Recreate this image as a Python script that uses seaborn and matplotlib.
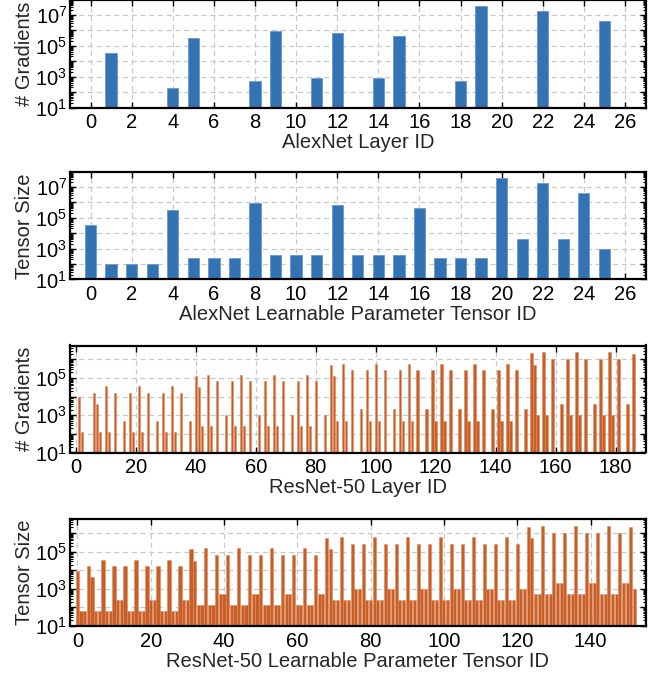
import numpy as np
import pandas as pd
import matplotlib
matplotlib.use("Agg")
import matplotlib.pyplot as plt
import matplotlib.ticker as mticker
import seaborn as sns

# ---------------- data ----------------
alex_layer_grads = [0, 34944, 0, 0, 192, 307456, 0, 0, 512, 885120, 0, 768, 663936,
                    0, 768, 442624, 0, 0, 512, 37752832, 0, 0, 16781312, 0, 0, 4097000]

alex_tensor_sizes = [34848, 96, 96, 96, 307200, 256, 256, 256, 884736, 384, 384, 384,
                     663552, 384, 384, 384, 442368, 256, 256, 256, 37748736, 4096,
                     16777216, 4096, 4096000, 1000]

resnet_layer_grads = [
    0, 9408, 128, 0, 0, 0,
    16384, 4096, 128, 0, 36864, 128, 0, 16384, 0, 0, 512, 0,
    16384, 128, 0, 36864, 128, 0, 16384, 0, 0, 512, 0,
    16384, 128, 0, 36864, 128, 0, 16384, 0, 0, 512, 0,
    131072, 32768, 256, 0, 147456, 256, 0, 65536, 0, 0, 1024, 0,
    65536, 256, 0, 147456, 256, 0, 65536, 0, 0, 1024, 0,
    65536, 256, 0, 147456, 256, 0, 65536, 0, 0, 1024, 0,
    65536, 256, 0, 147456, 256, 0, 65536, 0, 0, 1024, 0,
    524288, 131072, 512, 0, 589824, 512, 0, 262144, 0, 0, 2048, 0,
    262144, 512, 0, 589824, 512, 0, 262144, 0, 0, 2048, 0,
    262144, 512, 0, 589824, 512, 0, 262144, 0, 0, 2048, 0,
    262144, 512, 0, 589824, 512, 0, 262144, 0, 0, 2048, 0,
    262144, 512, 0, 589824, 512, 0, 262144, 0, 0, 2048, 0,
    262144, 512, 0, 589824, 512, 0, 262144, 0, 0, 2048, 0,
    2097152, 524288, 1024, 0, 2359296, 1024, 0, 1048576, 0, 0, 4096, 0,
    1048576, 1024, 0, 2359296, 1024, 0, 1048576, 0, 0, 4096, 0,
    1048576, 1024, 0, 2359296, 1024, 0, 1048576, 0, 0, 4096, 0,
    2049000, 0,
]

resnet_tensor_sizes = [
    9408, 64, 64,
    16384, 4096, 64, 64, 36864, 64, 64, 16384, 256, 256,
    16384, 64, 64, 36864, 64, 64, 16384, 256, 256,
    16384, 64, 64, 36864, 64, 64, 16384, 256, 256,
    131072, 32768, 128, 128, 147456, 128, 128, 65536, 512, 512,
    65536, 128, 128, 147456, 128, 128, 65536, 512, 512,
    65536, 128, 128, 147456, 128, 128, 65536, 512, 512,
    65536, 128, 128, 147456, 128, 128, 65536, 512, 512,
    524288, 131072, 256, 256, 589824, 256, 256, 262144, 1024, 1024,
    262144, 256, 256, 589824, 256, 256, 262144, 1024, 1024,
    262144, 256, 256, 589824, 256, 256, 262144, 1024, 1024,
    262144, 256, 256, 589824, 256, 256, 262144, 1024, 1024,
    262144, 256, 256, 589824, 256, 256, 262144, 1024, 1024,
    262144, 256, 256, 589824, 256, 256, 262144, 1024, 1024,
    2097152, 524288, 512, 512, 2359296, 512, 512, 1048576, 2048, 2048,
    1048576, 512, 512, 2359296, 512, 512, 1048576, 2048, 2048,
    1048576, 512, 512, 2359296, 512, 512, 1048576, 2048, 2048,
    2048000, 1000,
]

panel_ylabels = ["# Gradients", "Tensor Size", "# Gradients", "Tensor Size"]
panel_xlabels = ["AlexNet Layer ID", "AlexNet Learnable Parameter Tensor ID",
                 "ResNet-50 Layer ID", "ResNet-50 Learnable Parameter Tensor ID"]
panel_xticks = [list(range(0, 27, 2)), list(range(0, 27, 2)),
                list(range(0, 181, 20)), list(range(0, 141, 20))]

# ---------------- style ----------------
sns.set_style("ticks")
plt.rcParams["font.family"] = ["Liberation Sans", "DejaVu Sans"]
plt.rcParams["mathtext.fontset"] = "custom"
plt.rcParams["mathtext.rm"] = "Liberation Sans"
plt.rcParams["mathtext.it"] = "Liberation Sans:italic"
plt.rcParams["font.size"] = 14.5

BLUE = "#3373b4"
BLUE_EDGE = "#6f9dd0"
ORANGE = "#c85f29"
ORANGE_EDGE = "#dc8a5e"

W, H = 653, 678
fig = plt.figure(figsize=(W / 100, H / 100), dpi=100)

series = [alex_layer_grads, alex_tensor_sizes, resnet_layer_grads, resnet_tensor_sizes]
colors = [(BLUE, BLUE_EDGE), (BLUE, BLUE_EDGE), (ORANGE, ORANGE_EDGE), (ORANGE, ORANGE_EDGE)]
widths = [0.55, 0.55, 0.8, 0.85]
edge_lw = [0.7, 0.7, 0.4, 0.4]
pads = [1, 1, 2, 2]
ytops = [8.3e7, 8.3e7, 5.6e6, 5.6e6]
tops_px = [0.5, 172.5, 345.5, 519.0]
left_px, right_px, h_px = 70.0, 645.5, 107.0


def log_fmt(v, pos):
    e = int(round(np.log10(v)))
    if e % 2 == 1:
        return r"$\mathregular{10^{%d}}$" % e
    return ""


for i, vals in enumerate(series):
    t = tops_px[i]
    ax = fig.add_axes([left_px / W, 1 - (t + h_px) / H, (right_px - left_px) / W, h_px / H])
    df = pd.DataFrame({"id": np.arange(len(vals)), "value": vals})
    fc, ec = colors[i]
    sns.barplot(data=df, x="id", y="value", ax=ax, color=fc, saturation=1,
                width=widths[i], edgecolor=ec, linewidth=edge_lw[i], native_scale=True,
                errorbar=None)
    ax.set_yscale("log")
    ax.set_ylim(10, ytops[i])
    n = len(vals)
    ax.set_xlim(-pads[i], n + pads[i])
    ax.set_xticks(panel_xticks[i])
    ax.set_xticklabels([str(v) for v in panel_xticks[i]])
    ax.yaxis.set_major_locator(mticker.LogLocator(base=10, subs=(1.0,), numticks=20))
    ax.yaxis.set_major_formatter(mticker.FuncFormatter(log_fmt))
    ax.yaxis.set_minor_locator(mticker.LogLocator(base=10, subs=np.arange(2, 10), numticks=100))
    ax.yaxis.set_minor_formatter(mticker.NullFormatter())
    ax.set_axisbelow(True)
    ax.grid(True, which="major", axis="both", color="#c8c8c8", linestyle=(0, (4, 3)), linewidth=0.9)
    ax.tick_params(which="both", direction="in", top=True, right=True, labelsize=14.5, colors="black")
    ax.tick_params(which="major", length=4.5, width=1.0, pad=4)
    ax.tick_params(which="minor", length=2.5, width=0.8)
    ax.tick_params(axis="y", which="major", pad=2)
    for s in ax.spines.values():
        s.set_linewidth(1.6)
        s.set_color("black")
    ax.set_xlabel(panel_xlabels[i], fontsize=14.5, labelpad=1)
    ax.set_ylabel(panel_ylabels[i], fontsize=14.5, labelpad=1)

fig.savefig("out.png", dpi=100)
